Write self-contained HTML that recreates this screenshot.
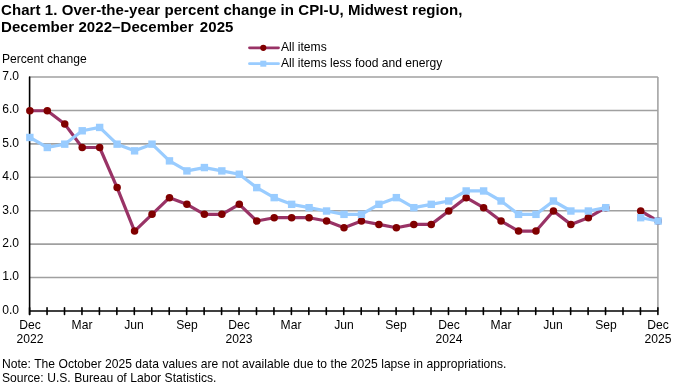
<!DOCTYPE html>
<html><head><meta charset="utf-8"><style>
html,body{margin:0;padding:0;background:#fff;}
.t,.yl,.xl,.pc,.lg,.note{will-change:transform;}
body{width:680px;height:387px;position:relative;overflow:hidden;font-family:"Liberation Sans",sans-serif;color:#000;}
.t{position:absolute;left:1.3px;top:0.6px;font-weight:bold;font-size:15px;line-height:17.4px;letter-spacing:0.075px;white-space:nowrap;}
.yl{position:absolute;left:0;width:19px;text-align:right;font-size:12.1px;line-height:16px;}
.xl{position:absolute;top:317.5px;width:60px;text-align:center;font-size:12.1px;line-height:14px;}
.pc{position:absolute;left:2.2px;top:51.2px;font-size:12.1px;line-height:16px;}
.lg{position:absolute;left:280.8px;font-size:12.1px;line-height:16px;white-space:nowrap;}
.note{position:absolute;left:1.6px;top:358.4px;font-size:12.1px;line-height:13.6px;white-space:nowrap;word-spacing:0.12px;}
svg{position:absolute;left:0;top:0;}
</style></head><body>
<div class="t">Chart 1. Over-the-year percent change in CPI-U, Midwest region,<br>December 2022&ndash;December<span style="margin-left:2px"> </span>2025</div>
<div class="pc">Percent change</div>
<div class="lg" style="top:39.4px">All items</div>
<div class="lg" style="top:55.4px">All items less food and energy</div>
<div class="yl" style="top:301.8px">0.0</div><div class="yl" style="top:268.4px">1.0</div><div class="yl" style="top:234.9px">2.0</div><div class="yl" style="top:201.5px">3.0</div><div class="yl" style="top:168.1px">4.0</div><div class="yl" style="top:134.7px">5.0</div><div class="yl" style="top:101.2px">6.0</div><div class="yl" style="top:67.8px">7.0</div>
<div class="xl" style="left:-0.4px">Dec<br>2022</div><div class="xl" style="left:52.0px">Mar</div><div class="xl" style="left:104.3px">Jun</div><div class="xl" style="left:156.7px">Sep</div><div class="xl" style="left:209.0px">Dec<br>2023</div><div class="xl" style="left:261.4px">Mar</div><div class="xl" style="left:313.8px">Jun</div><div class="xl" style="left:366.1px">Sep</div><div class="xl" style="left:418.5px">Dec<br>2024</div><div class="xl" style="left:470.8px">Mar</div><div class="xl" style="left:523.2px">Jun</div><div class="xl" style="left:575.5px">Sep</div><div class="xl" style="left:627.9px">Dec<br>2025</div>
<div class="note">Note: The October 2025 data values are not available due to the 2025 lapse in appropriations.<br>Source: U.S. Bureau of Labor Statistics.</div>
<svg width="680" height="387" viewBox="0 0 680 387">
<line x1="29.6" y1="277.57" x2="657.9" y2="277.57" stroke="#a0a0a0" stroke-width="1.55"/>
<line x1="29.6" y1="244.14" x2="657.9" y2="244.14" stroke="#a0a0a0" stroke-width="1.55"/>
<line x1="29.6" y1="210.71" x2="657.9" y2="210.71" stroke="#a0a0a0" stroke-width="1.55"/>
<line x1="29.6" y1="177.29" x2="657.9" y2="177.29" stroke="#a0a0a0" stroke-width="1.55"/>
<line x1="29.6" y1="143.86" x2="657.9" y2="143.86" stroke="#a0a0a0" stroke-width="1.55"/>
<line x1="29.6" y1="110.43" x2="657.9" y2="110.43" stroke="#a0a0a0" stroke-width="1.55"/>
<line x1="29.6" y1="77.00" x2="657.9" y2="77.00" stroke="#a0a0a0" stroke-width="1.55"/>
<line x1="657.9" y1="77.0" x2="657.9" y2="311.0" stroke="#a0a0a0" stroke-width="1.55"/>
<line x1="29.6" y1="77.0" x2="29.6" y2="314.5" stroke="#000" stroke-width="1.6" stroke-linecap="round"/>
<line x1="29.6" y1="311.0" x2="657.9" y2="311.0" stroke="#000" stroke-width="1.6"/>
<line x1="29.60" y1="307.7" x2="29.60" y2="314.5" stroke="#000" stroke-width="1.6" stroke-linecap="round"/>
<line x1="47.05" y1="307.7" x2="47.05" y2="314.5" stroke="#000" stroke-width="1.6" stroke-linecap="round"/>
<line x1="64.51" y1="307.7" x2="64.51" y2="314.5" stroke="#000" stroke-width="1.6" stroke-linecap="round"/>
<line x1="81.96" y1="307.7" x2="81.96" y2="314.5" stroke="#000" stroke-width="1.6" stroke-linecap="round"/>
<line x1="99.41" y1="307.7" x2="99.41" y2="314.5" stroke="#000" stroke-width="1.6" stroke-linecap="round"/>
<line x1="116.86" y1="307.7" x2="116.86" y2="314.5" stroke="#000" stroke-width="1.6" stroke-linecap="round"/>
<line x1="134.32" y1="307.7" x2="134.32" y2="314.5" stroke="#000" stroke-width="1.6" stroke-linecap="round"/>
<line x1="151.77" y1="307.7" x2="151.77" y2="314.5" stroke="#000" stroke-width="1.6" stroke-linecap="round"/>
<line x1="169.22" y1="307.7" x2="169.22" y2="314.5" stroke="#000" stroke-width="1.6" stroke-linecap="round"/>
<line x1="186.67" y1="307.7" x2="186.67" y2="314.5" stroke="#000" stroke-width="1.6" stroke-linecap="round"/>
<line x1="204.13" y1="307.7" x2="204.13" y2="314.5" stroke="#000" stroke-width="1.6" stroke-linecap="round"/>
<line x1="221.58" y1="307.7" x2="221.58" y2="314.5" stroke="#000" stroke-width="1.6" stroke-linecap="round"/>
<line x1="239.03" y1="307.7" x2="239.03" y2="314.5" stroke="#000" stroke-width="1.6" stroke-linecap="round"/>
<line x1="256.49" y1="307.7" x2="256.49" y2="314.5" stroke="#000" stroke-width="1.6" stroke-linecap="round"/>
<line x1="273.94" y1="307.7" x2="273.94" y2="314.5" stroke="#000" stroke-width="1.6" stroke-linecap="round"/>
<line x1="291.39" y1="307.7" x2="291.39" y2="314.5" stroke="#000" stroke-width="1.6" stroke-linecap="round"/>
<line x1="308.84" y1="307.7" x2="308.84" y2="314.5" stroke="#000" stroke-width="1.6" stroke-linecap="round"/>
<line x1="326.30" y1="307.7" x2="326.30" y2="314.5" stroke="#000" stroke-width="1.6" stroke-linecap="round"/>
<line x1="343.75" y1="307.7" x2="343.75" y2="314.5" stroke="#000" stroke-width="1.6" stroke-linecap="round"/>
<line x1="361.20" y1="307.7" x2="361.20" y2="314.5" stroke="#000" stroke-width="1.6" stroke-linecap="round"/>
<line x1="378.66" y1="307.7" x2="378.66" y2="314.5" stroke="#000" stroke-width="1.6" stroke-linecap="round"/>
<line x1="396.11" y1="307.7" x2="396.11" y2="314.5" stroke="#000" stroke-width="1.6" stroke-linecap="round"/>
<line x1="413.56" y1="307.7" x2="413.56" y2="314.5" stroke="#000" stroke-width="1.6" stroke-linecap="round"/>
<line x1="431.01" y1="307.7" x2="431.01" y2="314.5" stroke="#000" stroke-width="1.6" stroke-linecap="round"/>
<line x1="448.47" y1="307.7" x2="448.47" y2="314.5" stroke="#000" stroke-width="1.6" stroke-linecap="round"/>
<line x1="465.92" y1="307.7" x2="465.92" y2="314.5" stroke="#000" stroke-width="1.6" stroke-linecap="round"/>
<line x1="483.37" y1="307.7" x2="483.37" y2="314.5" stroke="#000" stroke-width="1.6" stroke-linecap="round"/>
<line x1="500.82" y1="307.7" x2="500.82" y2="314.5" stroke="#000" stroke-width="1.6" stroke-linecap="round"/>
<line x1="518.28" y1="307.7" x2="518.28" y2="314.5" stroke="#000" stroke-width="1.6" stroke-linecap="round"/>
<line x1="535.73" y1="307.7" x2="535.73" y2="314.5" stroke="#000" stroke-width="1.6" stroke-linecap="round"/>
<line x1="553.18" y1="307.7" x2="553.18" y2="314.5" stroke="#000" stroke-width="1.6" stroke-linecap="round"/>
<line x1="570.64" y1="307.7" x2="570.64" y2="314.5" stroke="#000" stroke-width="1.6" stroke-linecap="round"/>
<line x1="588.09" y1="307.7" x2="588.09" y2="314.5" stroke="#000" stroke-width="1.6" stroke-linecap="round"/>
<line x1="605.54" y1="307.7" x2="605.54" y2="314.5" stroke="#000" stroke-width="1.6" stroke-linecap="round"/>
<line x1="622.99" y1="307.7" x2="622.99" y2="314.5" stroke="#000" stroke-width="1.6" stroke-linecap="round"/>
<line x1="640.45" y1="307.7" x2="640.45" y2="314.5" stroke="#000" stroke-width="1.6" stroke-linecap="round"/>
<line x1="657.90" y1="307.7" x2="657.90" y2="314.5" stroke="#000" stroke-width="1.6" stroke-linecap="round"/>
<polyline points="29.85,110.73 47.30,110.73 64.76,124.10 82.21,147.50 99.66,147.50 117.11,187.61 134.57,231.07 152.02,214.36 169.47,197.64 186.92,204.33 204.38,214.36 221.83,214.36 239.28,204.33 256.74,221.04 274.19,217.70 291.64,217.70 309.09,217.70 326.55,221.04 344.00,227.73 361.45,221.04 378.91,224.39 396.36,227.73 413.81,224.39 431.26,224.39 448.72,211.01 466.17,197.64 483.62,207.67 501.07,221.04 518.53,231.07 535.98,231.07 553.43,211.01 570.89,224.39 588.34,217.70 605.79,207.67" fill="none" stroke="#993366" stroke-width="3.2" stroke-linejoin="round"/>
<polyline points="640.70,211.01 658.15,221.04" fill="none" stroke="#993366" stroke-width="3.2" stroke-linejoin="round"/>
<circle cx="29.85" cy="110.73" r="3.75" fill="#800000"/>
<circle cx="47.30" cy="110.73" r="3.75" fill="#800000"/>
<circle cx="64.76" cy="124.10" r="3.75" fill="#800000"/>
<circle cx="82.21" cy="147.50" r="3.75" fill="#800000"/>
<circle cx="99.66" cy="147.50" r="3.75" fill="#800000"/>
<circle cx="117.11" cy="187.61" r="3.75" fill="#800000"/>
<circle cx="134.57" cy="231.07" r="3.75" fill="#800000"/>
<circle cx="152.02" cy="214.36" r="3.75" fill="#800000"/>
<circle cx="169.47" cy="197.64" r="3.75" fill="#800000"/>
<circle cx="186.92" cy="204.33" r="3.75" fill="#800000"/>
<circle cx="204.38" cy="214.36" r="3.75" fill="#800000"/>
<circle cx="221.83" cy="214.36" r="3.75" fill="#800000"/>
<circle cx="239.28" cy="204.33" r="3.75" fill="#800000"/>
<circle cx="256.74" cy="221.04" r="3.75" fill="#800000"/>
<circle cx="274.19" cy="217.70" r="3.75" fill="#800000"/>
<circle cx="291.64" cy="217.70" r="3.75" fill="#800000"/>
<circle cx="309.09" cy="217.70" r="3.75" fill="#800000"/>
<circle cx="326.55" cy="221.04" r="3.75" fill="#800000"/>
<circle cx="344.00" cy="227.73" r="3.75" fill="#800000"/>
<circle cx="361.45" cy="221.04" r="3.75" fill="#800000"/>
<circle cx="378.91" cy="224.39" r="3.75" fill="#800000"/>
<circle cx="396.36" cy="227.73" r="3.75" fill="#800000"/>
<circle cx="413.81" cy="224.39" r="3.75" fill="#800000"/>
<circle cx="431.26" cy="224.39" r="3.75" fill="#800000"/>
<circle cx="448.72" cy="211.01" r="3.75" fill="#800000"/>
<circle cx="466.17" cy="197.64" r="3.75" fill="#800000"/>
<circle cx="483.62" cy="207.67" r="3.75" fill="#800000"/>
<circle cx="501.07" cy="221.04" r="3.75" fill="#800000"/>
<circle cx="518.53" cy="231.07" r="3.75" fill="#800000"/>
<circle cx="535.98" cy="231.07" r="3.75" fill="#800000"/>
<circle cx="553.43" cy="211.01" r="3.75" fill="#800000"/>
<circle cx="570.89" cy="224.39" r="3.75" fill="#800000"/>
<circle cx="588.34" cy="217.70" r="3.75" fill="#800000"/>
<circle cx="605.79" cy="207.67" r="3.75" fill="#800000"/>
<circle cx="640.70" cy="211.01" r="3.75" fill="#800000"/>
<circle cx="658.15" cy="221.04" r="3.75" fill="#800000"/>
<polyline points="29.85,137.47 47.30,147.50 64.76,144.16 82.21,130.79 99.66,127.44 117.11,144.16 134.57,150.84 152.02,144.16 169.47,160.87 186.92,170.90 204.38,167.56 221.83,170.90 239.28,174.24 256.74,187.61 274.19,197.64 291.64,204.33 309.09,207.67 326.55,211.01 344.00,214.36 361.45,214.36 378.91,204.33 396.36,197.64 413.81,207.67 431.26,204.33 448.72,200.99 466.17,190.96 483.62,190.96 501.07,200.99 518.53,214.36 535.98,214.36 553.43,200.99 570.89,211.01 588.34,211.01 605.79,207.67" fill="none" stroke="#99ccff" stroke-width="3.2" stroke-linejoin="round"/>
<polyline points="640.70,217.70 658.15,221.04" fill="none" stroke="#99ccff" stroke-width="3.2" stroke-linejoin="round"/>
<rect x="26.15" y="133.77" width="7.4" height="7.4" fill="#99ccff"/>
<rect x="43.60" y="143.80" width="7.4" height="7.4" fill="#99ccff"/>
<rect x="61.06" y="140.46" width="7.4" height="7.4" fill="#99ccff"/>
<rect x="78.51" y="127.09" width="7.4" height="7.4" fill="#99ccff"/>
<rect x="95.96" y="123.74" width="7.4" height="7.4" fill="#99ccff"/>
<rect x="113.41" y="140.46" width="7.4" height="7.4" fill="#99ccff"/>
<rect x="130.87" y="147.14" width="7.4" height="7.4" fill="#99ccff"/>
<rect x="148.32" y="140.46" width="7.4" height="7.4" fill="#99ccff"/>
<rect x="165.77" y="157.17" width="7.4" height="7.4" fill="#99ccff"/>
<rect x="183.22" y="167.20" width="7.4" height="7.4" fill="#99ccff"/>
<rect x="200.68" y="163.86" width="7.4" height="7.4" fill="#99ccff"/>
<rect x="218.13" y="167.20" width="7.4" height="7.4" fill="#99ccff"/>
<rect x="235.58" y="170.54" width="7.4" height="7.4" fill="#99ccff"/>
<rect x="253.04" y="183.91" width="7.4" height="7.4" fill="#99ccff"/>
<rect x="270.49" y="193.94" width="7.4" height="7.4" fill="#99ccff"/>
<rect x="287.94" y="200.63" width="7.4" height="7.4" fill="#99ccff"/>
<rect x="305.39" y="203.97" width="7.4" height="7.4" fill="#99ccff"/>
<rect x="322.85" y="207.31" width="7.4" height="7.4" fill="#99ccff"/>
<rect x="340.30" y="210.66" width="7.4" height="7.4" fill="#99ccff"/>
<rect x="357.75" y="210.66" width="7.4" height="7.4" fill="#99ccff"/>
<rect x="375.21" y="200.63" width="7.4" height="7.4" fill="#99ccff"/>
<rect x="392.66" y="193.94" width="7.4" height="7.4" fill="#99ccff"/>
<rect x="410.11" y="203.97" width="7.4" height="7.4" fill="#99ccff"/>
<rect x="427.56" y="200.63" width="7.4" height="7.4" fill="#99ccff"/>
<rect x="445.02" y="197.29" width="7.4" height="7.4" fill="#99ccff"/>
<rect x="462.47" y="187.26" width="7.4" height="7.4" fill="#99ccff"/>
<rect x="479.92" y="187.26" width="7.4" height="7.4" fill="#99ccff"/>
<rect x="497.38" y="197.29" width="7.4" height="7.4" fill="#99ccff"/>
<rect x="514.83" y="210.66" width="7.4" height="7.4" fill="#99ccff"/>
<rect x="532.28" y="210.66" width="7.4" height="7.4" fill="#99ccff"/>
<rect x="549.73" y="197.29" width="7.4" height="7.4" fill="#99ccff"/>
<rect x="567.19" y="207.31" width="7.4" height="7.4" fill="#99ccff"/>
<rect x="584.64" y="207.31" width="7.4" height="7.4" fill="#99ccff"/>
<rect x="602.09" y="203.97" width="7.4" height="7.4" fill="#99ccff"/>
<rect x="637.00" y="214.00" width="7.4" height="7.4" fill="#99ccff"/>
<rect x="654.45" y="217.34" width="7.4" height="7.4" fill="#99ccff"/>
<line x1="249.5" y1="47.8" x2="278.5" y2="47.8" stroke="#993366" stroke-width="2.8" stroke-linecap="round"/>
<circle cx="263.3" cy="47.8" r="3.1" fill="#800000"/>
<line x1="249.5" y1="63.7" x2="278.5" y2="63.7" stroke="#99ccff" stroke-width="2.8" stroke-linecap="round"/>
<rect x="260.3" y="60.7" width="6" height="6" fill="#99ccff"/>
</svg>
</body></html>
